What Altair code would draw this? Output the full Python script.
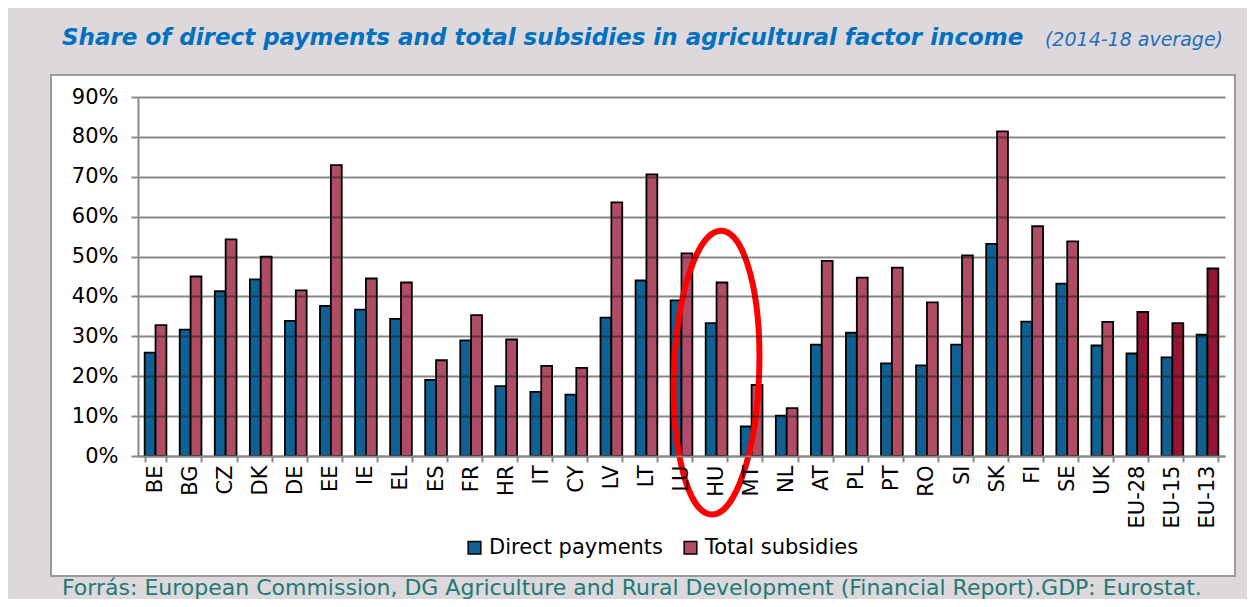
import altair as alt
import pandas as pd

countries = ["BE", "BG", "CZ", "DK", "DE", "EE", "IE", "EL", "ES", "FR", "HR", "IT",
             "CY", "LV", "LT", "LU", "HU", "MT", "NL", "AT", "PL", "PT", "RO", "SI",
             "SK", "FI", "SE", "UK", "EU-28", "EU-15", "EU-13"]
direct_payments = [25.9, 31.7, 41.3, 44.3, 33.9, 37.6, 36.7, 34.4, 19.1, 29.0, 17.5, 16.1,
                   15.4, 34.7, 44.0, 39.0, 33.3, 7.4, 10.1, 27.9, 30.9, 23.2, 22.7, 27.9,
                   53.2, 33.7, 43.2, 27.7, 25.7, 24.7, 30.4]
total_subsidies = [32.8, 45.0, 54.3, 50.0, 41.5, 72.9, 44.5, 43.5, 24.0, 35.3, 29.2, 22.6,
                   22.1, 63.6, 70.6, 50.8, 43.5, 17.8, 12.0, 48.9, 44.7, 47.2, 38.5, 50.3,
                   81.4, 57.6, 53.8, 33.6, 36.1, 33.3, 47.0]
aggregates = ["EU-28", "EU-15", "EU-13"]
series = ["Direct payments", "Total subsidies"]
y_ticks = [0, 10, 20, 30, 40, 50, 60, 70, 80, 90]
highlight_country = "HU"
highlight_center = 20.9

title_text = "Share of direct payments and total subsidies in agricultural factor income"
subtitle_text = "(2014-18 average)"
footer_text = "Forrás: European Commission, DG Agriculture and Rural Development (Financial Report).GDP: Eurostat."

rows = []
for c, dp, ts in zip(countries, direct_payments, total_subsidies):
    rows.append({"country": c, "series": series[0], "value": dp, "shade": series[0]})
    rows.append({"country": c, "series": series[1], "value": ts,
                 "shade": "EU total" if c in aggregates else series[1]})
df = pd.DataFrame(rows)
one = pd.DataFrame({"k": [0]})

FONT = "DejaVu Sans"
BLUE = "#0e6192"
RED = "#b04d66"
DARKRED = "#951535"

x_scale = alt.Scale(domain=countries, paddingInner=0.38, paddingOuter=0.19)
y_scale = alt.Scale(domain=[0, 90], nice=False)
x_axis = alt.Axis(title=None, labelAngle=-90, labelFont=FONT, labelFontSize=21,
                  labelColor="black", labelPadding=3, tickBand="extent",
                  tickSize=6, tickColor="#888888", tickWidth=2,
                  domainColor="#888888", domainWidth=2, grid=False, zindex=1)
y_axis = alt.Axis(title=None, values=y_ticks, labelExpr="datum.value + '%'",
                  labelOverlap=False, labelFont=FONT, labelFontSize=21,
                  labelColor="black", labelPadding=13, tickSize=7,
                  tickColor="#888888", tickWidth=2,
                  domainColor="#888888", domainWidth=2,
                  gridColor="#141414", gridOpacity=0.5, gridWidth=2, zindex=1)

box = alt.Chart(one).mark_rect(fill="white", stroke="#9b9b9b", strokeWidth=2).encode(
    x=alt.value(-87), x2=alt.value(1097), y=alt.value(-22), y2=alt.value(479)
)

bars = alt.Chart(df).mark_bar(stroke="black", strokeWidth=1.8).encode(
    x=alt.X("country:N", sort=countries, scale=x_scale, axis=x_axis),
    xOffset=alt.XOffset("series:N", sort=series),
    y=alt.Y("value:Q", scale=y_scale, axis=y_axis),
    color=alt.Color("shade:N",
                    scale=alt.Scale(domain=series + ["EU total"], range=[BLUE, RED, DARKRED]),
                    legend=alt.Legend(values=series, title=None, orient="none",
                                      direction="horizontal", legendX=326, legendY=440,
                                      symbolType="square", symbolSize=160,
                                      symbolStrokeColor="black", symbolStrokeWidth=1.5,
                                      symbolOpacity=1, labelFont=FONT, labelFontSize=21,
                                      labelColor="black", labelLimit=400, labelOffset=4,
                                      columnPadding=16, padding=0)),
)

ellipse = alt.Chart(one).mark_point(
    shape="M0,-1 A0.3,1 0 1,1 0,1 A0.3,1 0 1,1 0,-1 Z",
    size=80656, stroke="#ff0000", strokeWidth=6, filled=False, opacity=1, angle=2
).encode(
    x=alt.X(datum=highlight_country, type="nominal", scale=x_scale, axis=x_axis),
    y=alt.Y(datum=highlight_center, type="quantitative", scale=y_scale, axis=y_axis),
)

title = alt.Chart(one).mark_text(
    text=title_text, font=FONT, fontSize=23, fontStyle="italic", fontWeight="bold",
    color="#0070c0", align="left", baseline="middle"
).encode(x=alt.value(-76), y=alt.value(-59))

subtitle = alt.Chart(one).mark_text(
    text=subtitle_text, font=FONT, fontSize=19, fontStyle="italic",
    color="#1f6fbf", align="right", baseline="middle"
).encode(x=alt.value(1085), y=alt.value(-57))

footer = alt.Chart(one).mark_text(
    text=footer_text, font=FONT, fontSize=22, color="#217a74",
    align="left", baseline="middle"
).encode(x=alt.value(-76), y=alt.value(491))

chart = alt.layer(box, bars, ellipse, title, subtitle, footer).properties(
    width=1087, height=359,
    autosize=alt.AutoSizeParams(type="none"),
    padding={"left": 130, "top": 89, "right": 22, "bottom": 143},
    background="#dcd8dc",
).configure_view(stroke=None)

chart.save("out.html", embed_options={"renderer": "svg", "actions": False})
